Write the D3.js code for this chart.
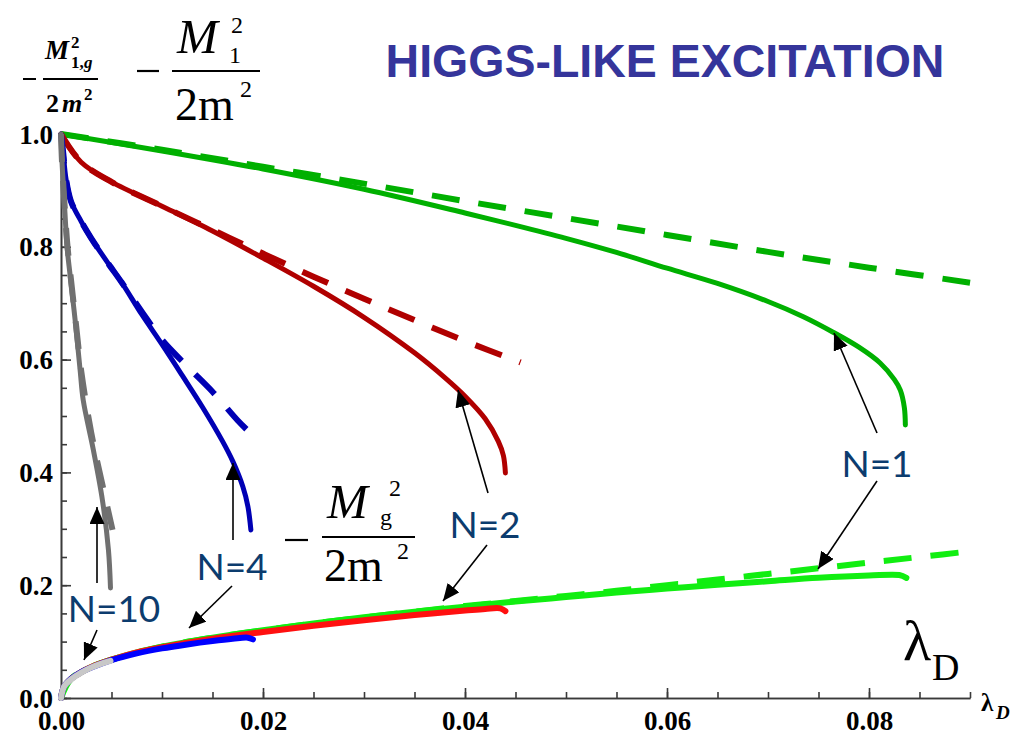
<!DOCTYPE html>
<html><head><meta charset="utf-8">
<script src="https://cdn.jsdelivr.net/npm/d3@7"></script>
<style>
html,body{margin:0;padding:0;background:#fff;}
svg{display:block;}
.serif{font-family:"Liberation Serif","Times New Roman",serif;}
</style></head>
<body>
<svg id="chart" width="1024" height="740"></svg>
<script>
// ---- data: [lambda_D, value] pairs ----
const upperN1Solid = [[0,1.0],[0.01,0.97],[0.02,0.938],[0.03,0.902],[0.04,0.86],[0.045,0.838],[0.05,0.815],[0.055,0.79],[0.06,0.762],[0.065,0.735],[0.07,0.703],[0.0735,0.676],[0.0764,0.649],[0.079,0.622],[0.0811,0.594],[0.0825,0.565],[0.0831,0.546],[0.0835,0.515],[0.0836,0.484]];
const upperN1Dashed = [[0,1.0],[0.01,0.972],[0.02,0.942],[0.03,0.912],[0.04,0.881],[0.05,0.851],[0.06,0.821],[0.07,0.791],[0.08,0.763],[0.0905,0.735]];
const upperN2Solid = [[0,1.0],[0.002,0.95],[0.005,0.915],[0.01,0.872],[0.015,0.828],[0.02,0.78],[0.025,0.73],[0.03,0.675],[0.035,0.612],[0.038,0.568],[0.04,0.535],[0.042,0.495],[0.0433,0.455],[0.0438,0.43],[0.044,0.399]];
const upperN2Dashed = [[0,1.0],[0.002,0.95],[0.005,0.915],[0.01,0.872],[0.015,0.83],[0.02,0.788],[0.025,0.747],[0.03,0.708],[0.035,0.67],[0.04,0.633],[0.0455,0.595]];
const upperN4Solid = [[0,1.0],[0.0002,0.97],[0.0005,0.92],[0.001,0.88],[0.002,0.845],[0.003,0.815],[0.0045,0.775],[0.006,0.737],[0.008,0.68],[0.01,0.627],[0.012,0.572],[0.014,0.516],[0.016,0.455],[0.017,0.42],[0.018,0.375],[0.0185,0.34],[0.0188,0.298]];
const upperN4Dashed = [[0,1.0],[0.0002,0.97],[0.0005,0.92],[0.001,0.88],[0.002,0.845],[0.003,0.815],[0.0045,0.775],[0.006,0.737],[0.008,0.685],[0.01,0.635],[0.0125,0.588],[0.015,0.543],[0.0175,0.492],[0.0185,0.474]];
const upperN10Solid = [[0,1.0],[0.0001,0.95],[0.0003,0.89],[0.0006,0.80],[0.0009,0.75],[0.0014,0.67],[0.0019,0.58],[0.0022,0.528],[0.0032,0.44],[0.0041,0.351],[0.0047,0.262],[0.0049,0.195]];
const upperN10Dashed = [[0,1.0],[0.0001,0.95],[0.0003,0.89],[0.0006,0.81],[0.001,0.74],[0.0015,0.66],[0.002,0.58],[0.003,0.47],[0.0042,0.37],[0.0051,0.298]];

const lowerN1Solid = [[0,0],[0.0003,0.02],[0.001,0.034],[0.002,0.046],[0.003,0.055],[0.005,0.068],[0.0075,0.081],[0.01,0.091],[0.015,0.107],[0.02,0.12],[0.025,0.132],[0.03,0.143],[0.035,0.153],[0.04,0.162],[0.045,0.171],[0.05,0.179],[0.055,0.187],[0.06,0.194],[0.065,0.201],[0.07,0.207],[0.075,0.213],[0.08,0.217],[0.083,0.218],[0.0837,0.213]];
const lowerN1Dashed = [[0,0],[0.001,0.034],[0.003,0.055],[0.005,0.068],[0.01,0.091],[0.015,0.107],[0.02,0.12],[0.025,0.132],[0.03,0.143],[0.035,0.153],[0.04,0.163],[0.045,0.172],[0.05,0.181],[0.055,0.19],[0.06,0.2],[0.065,0.21],[0.07,0.22],[0.075,0.23],[0.08,0.24],[0.085,0.25],[0.0905,0.261]];
const lowerN2Solid = [[0,0],[0.0003,0.02],[0.001,0.034],[0.002,0.046],[0.003,0.055],[0.005,0.068],[0.0075,0.081],[0.01,0.09],[0.015,0.105],[0.02,0.117],[0.025,0.128],[0.03,0.138],[0.035,0.147],[0.04,0.155],[0.042,0.158],[0.0435,0.159],[0.044,0.154]];
const lowerN4Solid = [[0,0],[0.0003,0.02],[0.001,0.034],[0.002,0.046],[0.003,0.054],[0.005,0.067],[0.0075,0.079],[0.01,0.088],[0.0125,0.095],[0.015,0.101],[0.017,0.105],[0.0185,0.107],[0.019,0.104]];
const lowerN10Solid = [[0,0],[0.0003,0.02],[0.001,0.033],[0.002,0.045],[0.003,0.054],[0.004,0.061],[0.0049,0.066]];

const xTicksMajor = [0, 0.02, 0.04, 0.06, 0.08];
const yTicksMajor = [0, 0.2, 0.4, 0.6, 0.8, 1.0];

const labelsN = [
  {text:"N=1", x:877, y:477, arrows:[[877,433,834,333],[877,481,818,569]]},
  {text:"N=2", x:485, y:538, arrows:[[488,493,458,390],[487,545,443,601]]},
  {text:"N=4", x:232, y:580, arrows:[[233,540,233,463],[232,586,189,628]]},
  {text:"N=10", x:114, y:622, arrows:[[97,583,97,507],[97,630,84,660]]}
];

// ---- layout ----
const svg = d3.select("#chart");
const x = d3.scaleLinear().domain([0, 0.09]).range([61, 970]);
const y = d3.scaleLinear().domain([0, 1]).range([698, 134]);

const defs = svg.append("defs");
defs.append("marker").attr("id","ah").attr("viewBox","0 0 10 10").attr("refX",10).attr("refY",5)
  .attr("markerWidth",17).attr("markerHeight",15).attr("markerUnits","userSpaceOnUse").attr("orient","auto")
  .attr("preserveAspectRatio","none")
  .append("path").attr("d","M0,0 L10,5 L0,10 z").attr("fill","#000");

// axes
const axisColor = "#3a3a3a";
const gx = svg.append("g").attr("transform","translate(0,698)")
  .call(d3.axisBottom(x).tickValues(xTicksMajor).tickFormat(d3.format(".2f")).tickSizeInner(-10).tickSizeOuter(0).tickPadding(13));
const gxm = svg.append("g").attr("transform","translate(0,698)")
  .call(d3.axisBottom(x).ticks(18).tickFormat("").tickSizeInner(-6).tickSizeOuter(0));
const gy = svg.append("g").attr("transform","translate(61,0)")
  .call(d3.axisLeft(y).tickValues(yTicksMajor).tickFormat(d3.format(".1f")).tickSizeInner(-10).tickSizeOuter(0).tickPadding(8));
const gym = svg.append("g").attr("transform","translate(61,0)")
  .call(d3.axisLeft(y).ticks(20).tickFormat("").tickSizeInner(-6).tickSizeOuter(0));
[gx,gxm,gy,gym].forEach(g=>{
  g.attr("font-family", null).attr("font-size", null);
  g.selectAll("path,line").attr("stroke",axisColor).attr("stroke-width",1.6);
  g.selectAll("text")
    .style("font-family","'Liberation Serif', 'Times New Roman', serif")
    .style("font-weight","bold").style("font-size","27px").attr("fill","#000");
});
gy.selectAll("text").attr("dy","0.34em");

const line = d3.line().x(d=>x(d[0])).y(d=>y(d[1])).curve(d3.curveCatmullRom.alpha(0.5));

function draw(data, color, width, dashed){
  svg.append("path").datum(data).attr("d", line).attr("fill","none")
    .attr("stroke", color).attr("stroke-width", width)
    .attr("stroke-linecap", dashed ? "butt" : "round")
    .attr("stroke-dasharray", dashed ? "28,19" : null);
}

// lower curves (M_g)
draw(lowerN1Dashed, "#11ee11", 6, true);
draw(lowerN1Solid, "#11ee11", 6, false);
draw(lowerN2Solid, "#ff1010", 6, false);
draw(lowerN4Solid, "#0000ff", 6, false);
draw(lowerN10Solid, "#c8c8c8", 6, false);

// upper curves (M_1)
draw(upperN1Dashed, "#00b000", 6, true);
draw(upperN1Solid, "#00b000", 5, false);
draw(upperN2Dashed, "#b00000", 6, true);
draw(upperN2Solid, "#b00000", 5, false);
draw(upperN4Dashed, "#0000b4", 6, true);
draw(upperN4Solid, "#0000b4", 5, false);
draw(upperN10Dashed, "#707070", 6, true);
draw(upperN10Solid, "#707070", 5, false);

// N labels and arrows
labelsN.forEach(l=>{
  l.arrows.forEach(a=>{
    svg.append("line").attr("x1",a[0]).attr("y1",a[1]).attr("x2",a[2]).attr("y2",a[3])
      .attr("stroke","#000").attr("stroke-width",1.6).attr("marker-end","url(#ah)");
  });
  svg.append("text").attr("x",l.x).attr("y",l.y).attr("text-anchor","middle")
    .style("font-family","Lato, sans-serif").style("font-size","37px").attr("fill","#0c3c6e").text(l.text);
});

// title
svg.append("text").attr("x",665).attr("y",77).attr("text-anchor","middle")
  .style("font-family","'Liberation Sans', Arial, sans-serif").style("font-weight","bold").style("font-size","46.5px")
  .attr("fill","#35359b").text("HIGGS-LIKE EXCITATION");

function t(g, xx, yy, size, txt, opts){
  opts = opts || {};
  return g.append("text").attr("class","serif").attr("x",xx).attr("y",yy)
    .style("font-size", size+"px")
    .style("font-style", opts.italic ? "italic" : "normal")
    .style("font-weight", opts.bold ? "bold" : "normal")
    .attr("fill","#000").text(txt);
}

// formula 1: -M_{1,g}^2 / (2 m^2)
const f1 = svg.append("g");
f1.append("line").attr("x1",23).attr("x2",36).attr("y1",79).attr("y2",79).attr("stroke","#000").attr("stroke-width",2);
f1.append("line").attr("x1",43).attr("x2",98).attr("y1",79).attr("y2",79).attr("stroke","#000").attr("stroke-width",2);
t(f1, 45, 59, 27, "M", {italic:true, bold:true});
t(f1, 71, 48, 17, "2", {bold:true});
t(f1, 71, 68, 17, "1,", {bold:true});
t(f1, 84, 68, 17, "g", {bold:true, italic:true});
t(f1, 46, 112, 26, "2", {bold:true});
t(f1, 62, 112, 26, "m", {bold:true, italic:true});
t(f1, 84, 100, 17, "2", {bold:true});

// formula 2: -M_1^2 / (2m^2)
const f2 = svg.append("g");
f2.append("line").attr("x1",137).attr("x2",159).attr("y1",71).attr("y2",71).attr("stroke","#000").attr("stroke-width",2.2);
f2.append("line").attr("x1",172).attr("x2",260).attr("y1",71).attr("y2",71).attr("stroke","#000").attr("stroke-width",1.8);
t(f2, 177, 53, 49, "M", {italic:true});
t(f2, 231, 33, 24, "2");
t(f2, 229, 63, 24, "1");
t(f2, 175, 120, 46, "2m");
t(f2, 240, 97, 24, "2");

// formula 3: -M_g^2 / (2m^2)
const f3 = svg.append("g");
f3.append("line").attr("x1",285).attr("x2",308).attr("y1",540).attr("y2",540).attr("stroke","#000").attr("stroke-width",2.2);
f3.append("line").attr("x1",322).attr("x2",415).attr("y1",537).attr("y2",537).attr("stroke","#000").attr("stroke-width",1.8);
t(f3, 327, 518, 49, "M", {italic:true});
t(f3, 389, 496, 24, "2");
t(f3, 380, 525, 24, "g");
t(f3, 324, 581, 46, "2m");
t(f3, 397, 559, 24, "2");

// big lambda_D
t(svg, 903, 660, 58, "λ");
t(svg, 932, 680, 38, "D");
// small axis label
t(svg, 981, 711, 25, "λ", {bold:true});
t(svg, 996, 719, 19, "D", {bold:true, italic:true});
</script>
</body></html>
